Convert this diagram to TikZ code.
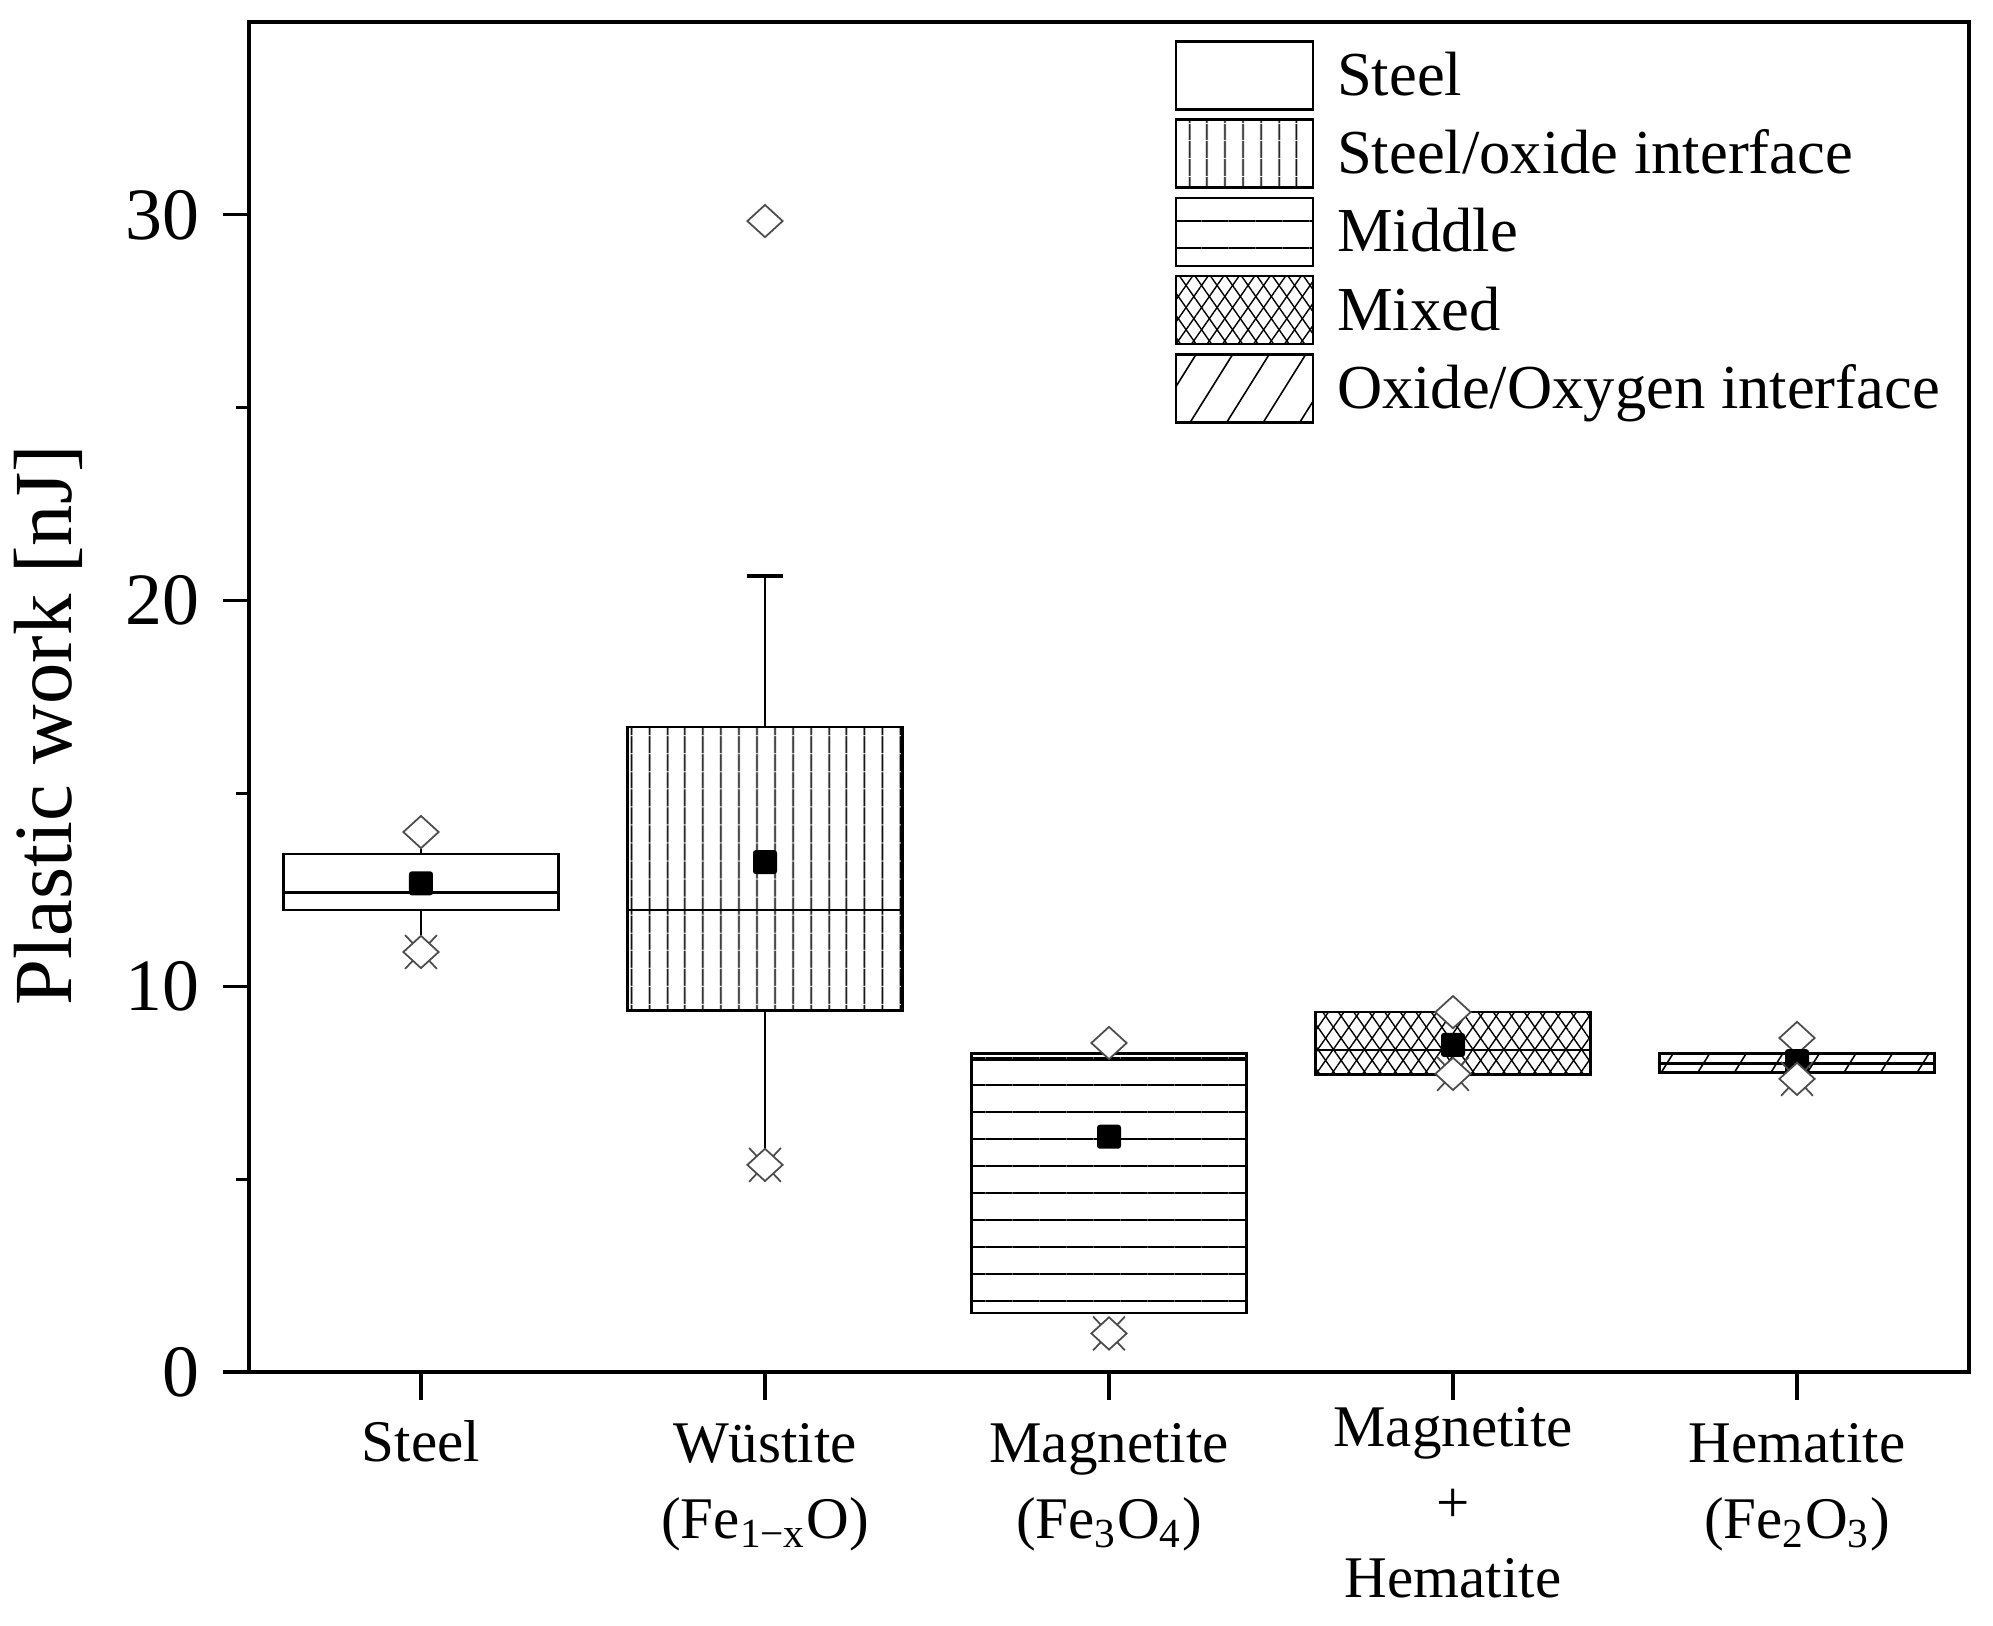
\documentclass[tikz,border=0pt]{standalone}
\usepackage{fontspec}
\setmainfont{Liberation Serif}
\usetikzlibrary{positioning,patterns.meta,shapes.geometric,shapes.misc}

\tikzstyle{frame}=[line width=1.2pt]
\tikzstyle{axistick}=[line width=.9pt]
\tikzstyle{box}=[line width=.75pt]
\tikzstyle{whisker}=[line width=.6pt]
\tikzstyle{whiskercap}=[line width=1.1pt]
\tikzstyle{plain}=[fill=white]
\tikzstyle{vlines}=[pattern={Lines[angle=90,distance=1.8mm,line width=.5pt]}]
\tikzstyle{hlines}=[pattern={Lines[angle=0,distance=2.7mm,line width=.5pt]}]
\tikzstyle{xlines}=[preaction={pattern={Lines[angle=55,distance=1.27mm,line width=.4pt]}},pattern={Lines[angle=-55,distance=1.27mm,line width=.4pt]}]
\tikzstyle{slines}=[pattern={Lines[angle=58,distance=3.1mm,line width=.45pt]}]
\tikzstyle{extreme}=[diamond,draw=black!70,fill=white,line width=.5pt,inner sep=0pt,minimum width=3.6mm,minimum height=3.3mm]
\tikzstyle{pct}=[cross out,draw=black!70,line width=.5pt,inner sep=0pt,minimum width=3mm,minimum height=3.2mm]
\tikzstyle{mean}=[fill=black,rounded corners=.8pt,inner sep=0pt,minimum size=2.4mm]
\tikzstyle{legbox}=[draw,line width=.75pt,minimum width=13.7mm,minimum height=6.8mm,inner sep=0pt]
\tikzstyle{legtext}=[font=\fontsize{17.8}{21}\selectfont,inner sep=0pt]
\tikzstyle{ticklabel}=[font=\fontsize{21}{25}\selectfont,inner sep=0pt]
\tikzstyle{catlabel}=[font=\fontsize{16.8}{21.6}\selectfont,align=center,inner sep=0pt]

\begin{document}
\begin{tikzpicture}[x=3.44cm,y=.3857cm]
    \useasboundingbox (-.2238,-6.5595) rectangle (5.5698,35.572);

    % Boxes
    \draw[box,plain] (.6,11.98) rectangle (1.4,13.43);
    \draw[box,vlines] (1.6,9.38) rectangle (2.4,16.72);
    \draw[box,hlines] (2.6,1.53) rectangle (3.4,8.25);
    \draw[box,xlines] (3.6,7.72) rectangle (4.4,9.33);
    \draw[box,slines] (4.6,7.76) rectangle (5.4,8.25);

    % Medians
    \draw[box] (.6,12.44) -- (1.4,12.44);
    \draw[box] (1.6,11.98) -- (2.4,11.98);
    \draw[box] (2.6,8.09) -- (3.4,8.09);
    \draw[box] (3.6,8.35) -- (4.4,8.35);
    \draw[box] (4.6,8.0) -- (5.4,8.0);

    % Maxima
    \draw (1,14.0) node[extreme] (st-max) {};
    \draw (2,29.84) node[extreme] (wu-max) {};
    \draw (3,8.53) node[extreme] (mg-max) {};
    \draw (4,9.33) node[extreme] (mx-max) {};
    \draw (5,8.66) node[extreme] (hm-max) {};

    % Means
    \draw (1,12.67) node[mean] (st-mean) {};
    \draw (2,13.22) node[mean] (wu-mean) {};
    \draw (3,6.1) node[mean] (mg-mean) {};
    \draw (4,8.48) node[mean] (mx-mean) {};
    \draw (5,8.06) node[mean] (hm-mean) {};

    % Minima
    \draw (1,10.89) node[pct] (st-pct) {} node[extreme] (st-min) {};
    \draw (2,5.37) node[pct] (wu-pct) {} node[extreme] (wu-min) {};
    \draw (3,1.0) node[pct] (mg-pct) {} node[extreme] (mg-min) {};
    \draw (4,7.73) node[pct] (mx-pct) {} node[extreme] (mx-min) {};
    \draw (5,7.6) node[pct] (hm-pct) {} node[extreme] (hm-min) {};

    % Whiskers
    \coordinate (st-hi) at (1,13.43);
    \coordinate (st-lo) at (1,11.98);
    \coordinate (wu-hi) at (2,16.72);
    \coordinate (wu-lo) at (2,9.38);
    \coordinate (wu-cap) at (2,20.64);
    \draw[whisker] (st-hi) -- (st-max);
    \draw[whisker] (st-lo) -- (st-min);
    \draw[whisker] (wu-hi) -- (wu-cap);
    \draw[whisker] (wu-lo) -- (wu-min);
    \draw[whiskercap] ([xshift=-1.8mm]wu-cap) -- ([xshift=1.8mm]wu-cap);

    % Axes
    \draw[frame] (.5,0) rectangle (5.5,35);
    \foreach \v in {0,10,20,30}{
        \draw[axistick] (.5,\v) -- ++(-2.6mm,0);
        \node[ticklabel,anchor=east] (t\v) at ([xshift=-4.9mm].5,\v) {\v};
    }
    \foreach \v in {5,15,25}
        \draw[axistick] (.5,\v) -- ++(-1.3mm,0);
    \foreach \c in {1,...,5}
        \draw[axistick] (\c,0) -- ++(0,-2.8mm);

    \node[font=\fontsize{23.5}{28}\selectfont,rotate=90] (ylab) at (-.0843,16.77) {Plastic work [nJ]};

    % Categories (base = last line)
    \node[catlabel,anchor=base] (c1) at (1,-2.333) {Steel};
    \node[catlabel,anchor=base] (c2) at (2,-4.304) {Wüstite\\(Fe\textsubscript{1−x}O)};
    \node[catlabel,anchor=base] (c3) at (3,-4.304) {Magnetite\\(Fe\textsubscript{3}O\textsubscript{4})};
    \node[catlabel,anchor=base] (c4) at (4,-5.859) {Magnetite\\+\\Hematite};
    \node[catlabel,anchor=base] (c5) at (5,-4.304) {Hematite\\(Fe\textsubscript{2}O\textsubscript{3})};

    % Legend
    \node[legbox,plain] (lg1) at (3.394,33.61) {};
    \node[legbox,vlines,below=.75mm of lg1] (lg2) {};
    \node[legbox,hlines,below=.75mm of lg2] (lg3) {};
    \node[legbox,xlines,below=.75mm of lg3] (lg4) {};
    \node[legbox,slines,below=.75mm of lg4] (lg5) {};
    \node[legtext,anchor=base west] (lt1) at ([xshift=2.2mm,yshift=-2mm]lg1.east) {Steel};
    \node[legtext,anchor=base west] (lt2) at ([xshift=2.2mm,yshift=-2mm]lg2.east) {Steel/oxide interface};
    \node[legtext,anchor=base west] (lt3) at ([xshift=2.2mm,yshift=-2mm]lg3.east) {Middle};
    \node[legtext,anchor=base west] (lt4) at ([xshift=2.2mm,yshift=-2mm]lg4.east) {Mixed};
    \node[legtext,anchor=base west] (lt5) at ([xshift=2.2mm,yshift=-2mm]lg5.east) {Oxide/Oxygen interface};

\end{tikzpicture}
\end{document}
